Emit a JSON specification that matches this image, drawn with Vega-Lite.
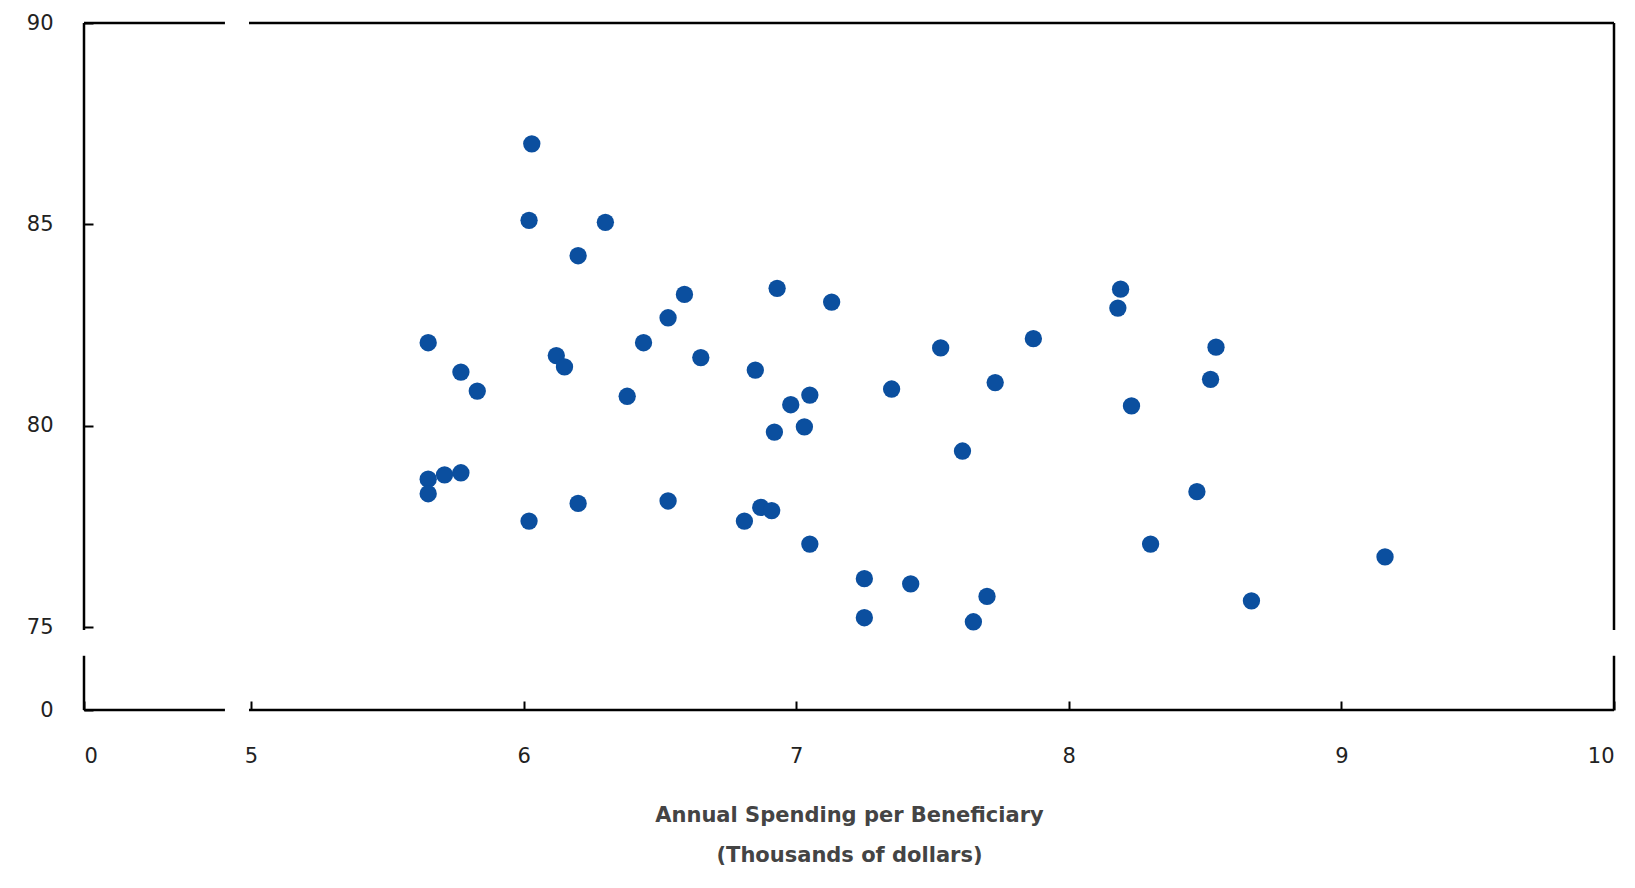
{
  "$schema": "https://vega.github.io/schema/vega-lite/v6.json",
  "width": 1530,
  "height": 687,
  "autosize": "none",
  "padding": {"left": 84, "top": 23, "right": 21, "bottom": 178},
  "config": {"view": {"stroke": null}, "font": "DejaVu Sans"},
  "layer": [
    {
      "data": {"values": [
        {"x": 0, "x2": 4.22, "y": 90, "y2": 90},
        {"x": 4.94, "x2": 10, "y": 90, "y2": 90},
        {"x": 0, "x2": 4.22, "y": 0, "y2": 0},
        {"x": 4.94, "x2": 10, "y": 0, "y2": 0},
        {"x": 0, "x2": 0, "y": 0, "y2": 49},
        {"x": 0, "x2": 0, "y": 72.2, "y2": 90},
        {"x": 10, "x2": 10, "y": 0, "y2": 49},
        {"x": 10, "x2": 10, "y": 72.2, "y2": 90}
      ]},
      "mark": {"type": "rule", "color": "black", "strokeWidth": 2.5},
      "encoding": {
        "x": {"field": "x", "type": "quantitative",
          "scale": {"domain": [0, 5, 10], "range": [0, 167, 1530]},
          "axis": {"values": [0, 5, 6, 7, 8, 9, 10], "format": "d", "domain": false, "tickSize": -9, "tickWidth": 2, "tickColor": "black",
            "labelPadding": 44, "labelFontSize": 21, "labelColor": "#222",
            "title": ["Annual Spending per Beneficiary", "(Thousands of dollars)"],
            "titleFontSize": 21, "titleFontWeight": "bold", "titleColor": "#444", "titlePadding": 38, "titleLineHeight": 40, "grid": false}},
        "x2": {"field": "x2"},
        "y": {"field": "y", "type": "quantitative",
          "scale": {"domain": [0, 75, 90], "range": [687, 604, 0]},
          "axis": {"values": [0, 75, 80, 85, 90], "format": "d", "domain": false, "tickSize": -9, "tickWidth": 2, "tickColor": "black",
            "labelPadding": 40, "labelFontSize": 21, "labelColor": "#222", "title": null, "grid": false}},
        "y2": {"field": "y2"}
      }
    },
    {
      "data": {"values": [
        {"x": 5.65, "y": 82.06}, {"x": 5.77, "y": 81.33}, {"x": 5.83, "y": 80.86},
        {"x": 5.65, "y": 78.67}, {"x": 5.65, "y": 78.31}, {"x": 5.71, "y": 78.78},
        {"x": 5.77, "y": 78.83}, {"x": 6.03, "y": 87.0}, {"x": 6.02, "y": 85.1},
        {"x": 6.30, "y": 85.05}, {"x": 6.20, "y": 84.22}, {"x": 6.59, "y": 83.26},
        {"x": 6.53, "y": 82.68}, {"x": 6.44, "y": 82.06}, {"x": 6.12, "y": 81.74},
        {"x": 6.15, "y": 81.46}, {"x": 6.65, "y": 81.69}, {"x": 6.38, "y": 80.73},
        {"x": 6.02, "y": 77.63}, {"x": 6.20, "y": 78.07}, {"x": 6.53, "y": 78.13},
        {"x": 6.93, "y": 83.41}, {"x": 7.13, "y": 83.07}, {"x": 6.85, "y": 81.38},
        {"x": 6.98, "y": 80.52}, {"x": 7.05, "y": 80.76}, {"x": 6.92, "y": 79.84},
        {"x": 7.03, "y": 79.97}, {"x": 6.81, "y": 77.63}, {"x": 6.87, "y": 77.97},
        {"x": 6.91, "y": 77.89}, {"x": 7.05, "y": 77.06}, {"x": 7.25, "y": 76.2},
        {"x": 7.25, "y": 75.23}, {"x": 7.42, "y": 76.07}, {"x": 7.35, "y": 80.91},
        {"x": 7.53, "y": 81.93}, {"x": 7.73, "y": 81.07}, {"x": 7.87, "y": 82.16},
        {"x": 7.61, "y": 79.37}, {"x": 7.70, "y": 75.76}, {"x": 7.65, "y": 75.13},
        {"x": 8.19, "y": 83.39}, {"x": 8.18, "y": 82.92}, {"x": 8.23, "y": 80.49},
        {"x": 8.54, "y": 81.95}, {"x": 8.52, "y": 81.15}, {"x": 8.47, "y": 78.36},
        {"x": 8.30, "y": 77.06}, {"x": 8.67, "y": 75.65}, {"x": 9.16, "y": 76.74}
      ]},
      "mark": {"type": "circle", "color": "#0b4f9f", "opacity": 1, "size": 300},
      "encoding": {
        "x": {"field": "x", "type": "quantitative"},
        "y": {"field": "y", "type": "quantitative"}
      }
    }
  ]
}
